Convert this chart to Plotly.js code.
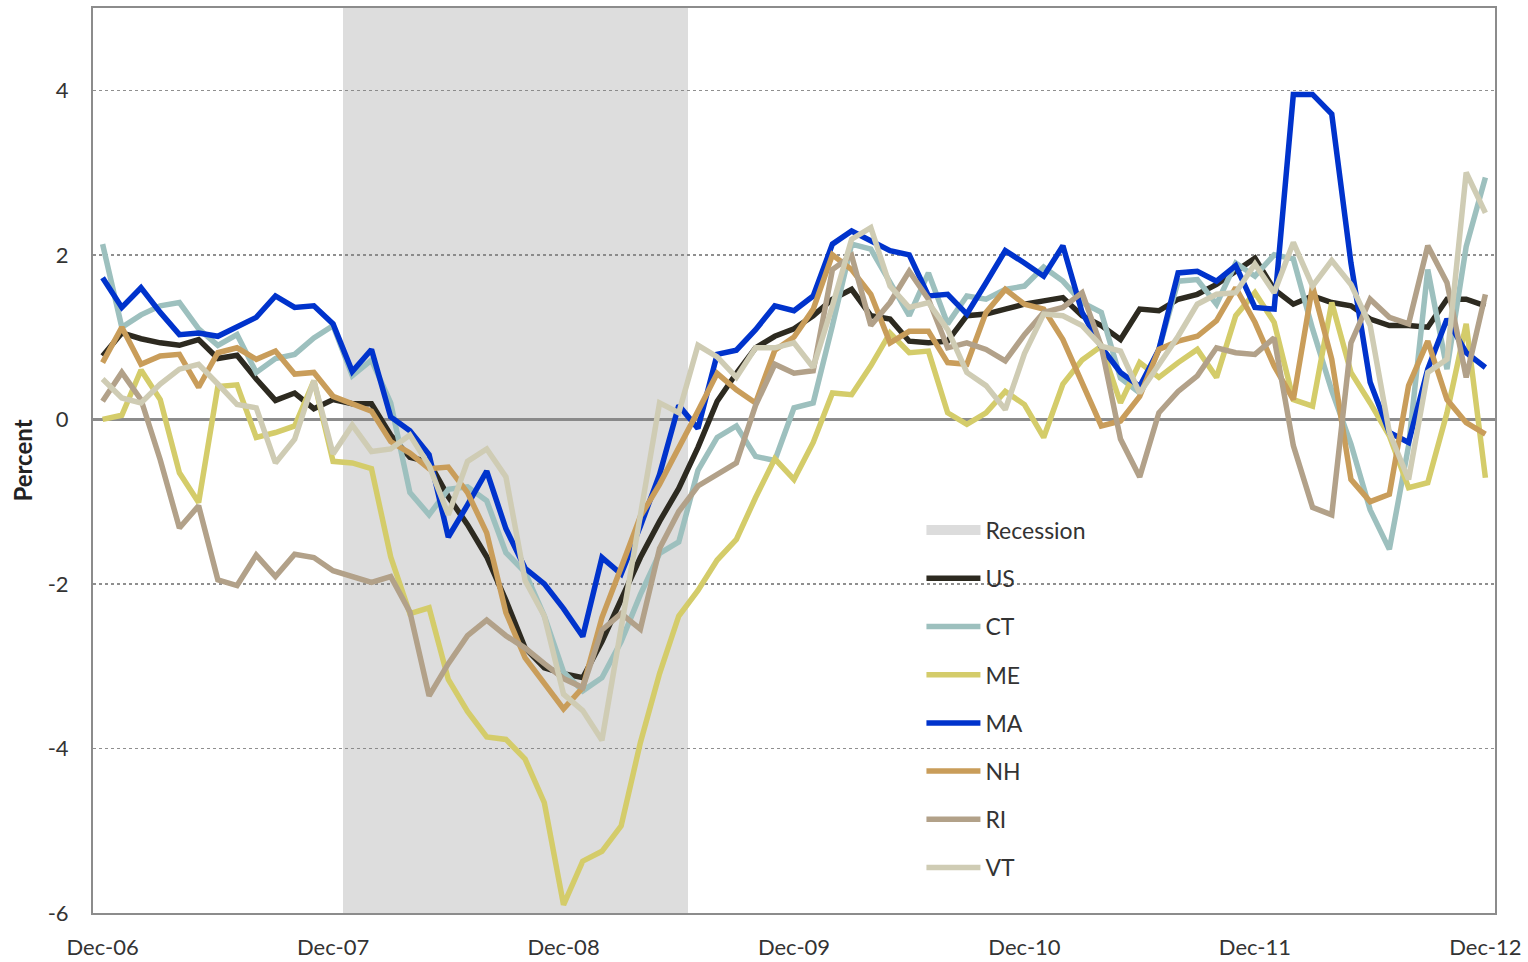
<!DOCTYPE html>
<html>
<head>
<meta charset="utf-8">
<script src="https://cdn.plot.ly/plotly-3.0.1.min.js"></script>
<style>
  html, body { margin: 0; padding: 0; background: #ffffff; }
  #chart { width: 1528px; height: 962px; }
</style>
</head>
<body>
<div id="chart"></div>
<script>
// ---------------- DATA ----------------
const monthNames = ['Jan','Feb','Mar','Apr','May','Jun','Jul','Aug','Sep','Oct','Nov','Dec'];
const months = ['Dec-06'];
for (const yy of ['07','08','09','10','11','12']) {
  for (const m of monthNames) months.push(m + '-' + yy);
}
const tickLabels = ['Dec-06','Dec-07','Dec-08','Dec-09','Dec-10','Dec-11','Dec-12'];
const yTickVals = [-6, -4, -2, 0, 2, 4];
const yTickText = ['-6', '-4', '-2', '0', '2', '4'];
const recessionMonths = ['Jan-08','Feb-08','Mar-08','Apr-08','May-08','Jun-08','Jul-08','Aug-08','Sep-08',
  'Oct-08','Nov-08','Dec-08','Jan-09','Feb-09','Mar-09','Apr-09','May-09','Jun-09'];
const yRange = [-6, 5];

const US = [0.77,1.05,0.98,0.93,0.90,0.97,0.74,0.78,0.49,0.23,0.32,0.13,
  0.24,0.19,0.19,-0.19,-0.46,-0.52,-0.94,-1.28,-1.67,-2.2,-2.78,-3.02,
  -3.09,-3.14,-2.7,-2.19,-1.68,-1.24,-0.84,-0.34,0.22,0.56,0.87,1.01,
  1.1,1.26,1.46,1.58,1.26,1.22,0.95,0.93,0.95,1.26,1.28,1.34,
  1.4,1.44,1.48,1.26,1.14,0.97,1.34,1.32,1.46,1.52,1.64,1.8,
  1.96,1.58,1.4,1.5,1.42,1.38,1.22,1.14,1.14,1.12,1.46,1.46,1.38];
const CT = [2.13,1.12,1.27,1.38,1.42,1.1,0.9,1.03,0.57,0.74,0.79,0.99,
  1.14,0.53,0.72,0.2,-0.89,-1.16,-0.85,-0.82,-0.99,-1.62,-1.86,-2.39,
  -3.07,-3.3,-3.14,-2.7,-2.13,-1.63,-1.49,-0.62,-0.22,-0.08,-0.45,-0.5,
  0.14,0.2,1.14,2.13,2.07,1.66,1.26,1.78,1.16,1.5,1.46,1.58,
  1.62,1.85,1.68,1.42,1.3,0.5,0.32,0.85,1.68,1.7,1.4,1.9,
  1.74,2.0,1.95,1.1,0.35,-0.3,-1.1,-1.58,-0.32,1.82,0.61,2.1,2.94];
const ME = [0.0,0.05,0.6,0.24,-0.65,-1.01,0.4,0.42,-0.22,-0.16,-0.08,0.47,
  -0.51,-0.53,-0.6,-1.67,-2.36,-2.29,-3.16,-3.55,-3.86,-3.89,-4.13,-4.66,
  -5.9,-5.37,-5.25,-4.94,-3.93,-3.09,-2.39,-2.08,-1.71,-1.46,-0.95,-0.48,
  -0.73,-0.28,0.32,0.3,0.65,1.05,0.81,0.83,0.08,-0.06,0.08,0.34,
  0.18,-0.22,0.43,0.72,0.89,0.2,0.69,0.51,0.69,0.85,0.51,1.26,
  1.54,1.18,0.24,0.16,1.42,0.57,0.2,-0.2,-0.83,-0.77,0.08,1.16,-0.71];
const MA = [1.72,1.36,1.6,1.3,1.03,1.05,1.01,1.12,1.24,1.5,1.36,1.38,
  1.16,0.58,0.85,0.03,-0.14,-0.43,-1.43,-1.04,-0.63,-1.33,-1.81,-2.0,
  -2.3,-2.64,-1.68,-1.88,-1.3,-0.67,0.17,-0.11,0.79,0.84,1.09,1.38,
  1.32,1.5,2.13,2.29,2.17,2.05,2.0,1.5,1.52,1.28,1.66,2.05,
  1.9,1.74,2.11,1.3,0.88,0.57,0.4,0.85,1.78,1.8,1.68,1.87,
  1.36,1.34,3.95,3.95,3.71,1.9,0.45,-0.16,-0.28,0.61,1.22,0.81,0.63];
const NH = [0.69,1.12,0.67,0.77,0.79,0.39,0.81,0.87,0.73,0.83,0.55,0.57,
  0.28,0.19,0.1,-0.27,-0.41,-0.6,-0.58,-0.89,-1.38,-2.35,-2.9,-3.21,
  -3.52,-3.26,-2.41,-1.8,-1.18,-0.79,-0.36,0.1,0.56,0.36,0.2,0.84,
  1.0,1.34,2.0,1.82,1.52,0.93,1.07,1.07,0.69,0.67,1.3,1.58,
  1.4,1.34,0.97,0.45,-0.08,-0.02,0.28,0.85,0.95,1.01,1.2,1.6,
  1.18,0.65,0.24,1.62,0.73,-0.73,-1.0,-0.91,0.41,0.95,0.24,-0.04,-0.18];
const RI = [0.22,0.57,0.24,-0.49,-1.32,-1.05,-1.95,-2.02,-1.65,-1.91,-1.64,-1.68,
  -1.84,-1.91,-1.98,-1.91,-2.34,-3.36,-2.97,-2.63,-2.44,-2.63,-2.78,-2.97,
  -3.15,-3.26,-2.56,-2.36,-2.55,-1.57,-1.12,-0.81,-0.67,-0.53,0.17,0.67,
  0.56,0.59,1.82,1.99,1.14,1.42,1.8,1.46,0.87,0.93,0.85,0.71,
  1.03,1.3,1.36,1.54,0.89,-0.24,-0.7,0.08,0.34,0.53,0.87,0.81,
  0.79,0.99,-0.32,-1.07,-1.16,0.93,1.46,1.24,1.16,2.11,1.66,0.51,1.52];
const VT = [0.49,0.26,0.2,0.43,0.61,0.67,0.43,0.18,0.14,-0.53,-0.24,0.47,
  -0.42,-0.07,-0.39,-0.36,-0.19,-0.56,-1.16,-0.51,-0.36,-0.7,-1.96,-2.39,
  -3.34,-3.54,-3.9,-2.5,-1.1,0.2,0.08,0.9,0.76,0.51,0.87,0.87,
  0.93,0.63,1.38,2.19,2.33,1.62,1.36,1.42,1.09,0.57,0.41,0.12,
  0.8,1.28,1.26,1.14,0.89,0.83,0.32,0.67,1.01,1.4,1.52,1.54,
  1.89,1.54,2.15,1.62,1.93,1.64,1.14,-0.16,-0.73,0.57,0.73,3.0,2.51];

const seriesNames = ['US','CT','ME','MA','NH','RI','VT'];
const seriesData  = [US, CT, ME, MA, NH, RI, VT];
const seriesColors = ['#2d2a20','#9dc0be','#d4cc6a','#0033cc','#c99d5a','#b2a189','#cfccb4'];
const recessionColor = 'rgba(128,128,128,0.27)';

// ---------------- TRACES ----------------
const FONT = 'Lato, "Open Sans", sans-serif';
const traces = [];
// recession shading (drawn through the category x axis)
traces.push({
  type: 'bar',
  name: 'Recession',
  x: recessionMonths,
  y: recessionMonths.map(() => yRange[1] - yRange[0]),
  base: yRange[0],
  width: 1,
  marker: { color: recessionColor, line: { width: 0 } },
  showlegend: false,
  legendgroup: 'g0',
  hoverinfo: 'skip'
});
// legend entry for the recession (wide swatch like the original)
traces.push({
  type: 'scatter',
  mode: 'lines',
  name: 'Recession',
  x: [null],
  y: [null],
  line: { color: '#dcdcdc', width: 14 },
  legendgroup: 'g0',
  showlegend: true,
  hoverinfo: 'skip'
});
seriesNames.forEach((nm, k) => {
  traces.push({
    type: 'scatter',
    mode: 'lines',
    name: nm,
    x: months,
    y: seriesData[k],
    line: { color: seriesColors[k], width: 5.5 },
    legendgroup: 'g' + (k + 1),
    hoverinfo: 'skip'
  });
});

// ---------------- LAYOUT ----------------
const layout = {
  width: 1528,
  height: 962,
  paper_bgcolor: '#ffffff',
  plot_bgcolor: '#ffffff',
  margin: { l: 93, r: 33, t: 8, b: 49, pad: 0 },
  font: { family: FONT, size: 22, color: '#333333' },
  bargap: 0,
  showlegend: true,
  legend: {
    x: 0.5909, y: 0.4468, xanchor: 'left', yanchor: 'top',
    bgcolor: 'rgba(0,0,0,0)',
    borderwidth: 0,
    font: { family: FONT, size: 23, color: '#333333' },
    traceorder: 'grouped',
    tracegroupgap: 15.3,
    itemwidth: 54
  },
  xaxis: {
    type: 'category',
    categoryorder: 'array',
    categoryarray: months,
    range: [-0.5, months.length - 0.5],
    tickmode: 'array',
    tickvals: tickLabels,
    ticktext: tickLabels,
    ticks: '',
    showgrid: false,
    zeroline: false,
    showline: true,
    mirror: true,
    linecolor: '#8c8c8c',
    linewidth: 2,
    tickfont: { family: FONT, size: 22, color: '#333333' },
    ticklabelstandoff: 14,
    automargin: false,
    fixedrange: true
  },
  yaxis: {
    range: yRange,
    tickmode: 'array',
    tickvals: yTickVals,
    ticktext: yTickText,
    ticks: '',
    showgrid: true,
    gridcolor: '#8f8f8f',
    gridwidth: 1.5,
    griddash: 'dot',
    zeroline: true,
    zerolinecolor: '#8c8c8c',
    zerolinewidth: 2.5,
    showline: true,
    mirror: true,
    linecolor: '#8c8c8c',
    linewidth: 2,
    tickfont: { family: FONT, size: 22, color: '#333333' },
    ticklabelstandoff: 18,
    title: { text: '<b>Percent</b>', font: { family: FONT, size: 24, color: '#222222' }, standoff: 8 },
    automargin: false,
    fixedrange: true
  }
};

Plotly.newPlot('chart', traces, layout, { staticPlot: true, displayModeBar: false });
</script>
</body>
</html>
